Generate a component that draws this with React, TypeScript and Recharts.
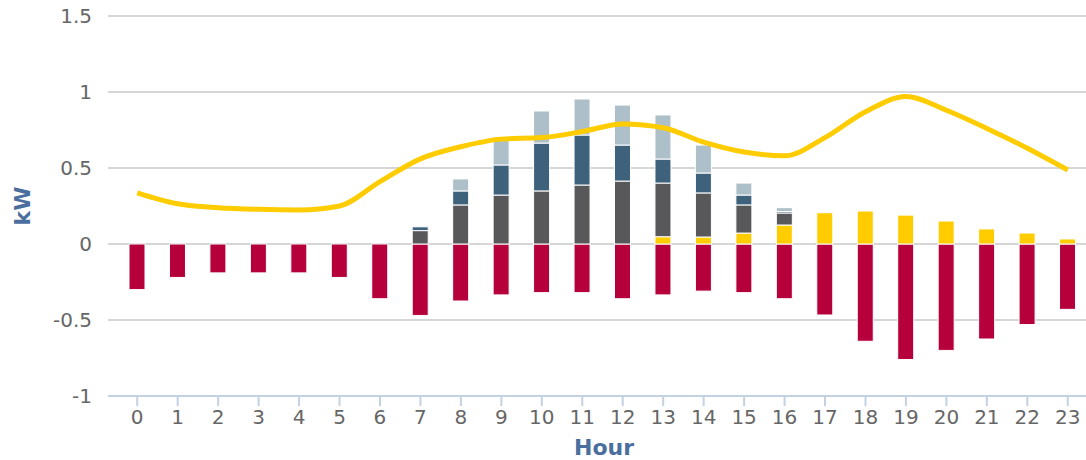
import React from 'react';
import { ComposedChart, Bar, Line, XAxis, YAxis, CartesianGrid } from 'recharts';

const hours = ['0', '1', '2', '3', '4', '5', '6', '7', '8', '9', '10', '11', '12', '13', '14', '15', '16', '17', '18', '19', '20', '21', '22', '23'];

// stacked positive parts (bottom to top)
const solar = [0, 0, 0, 0, 0, 0, 0, 0, 0, 0, 0, 0, 0, 0.048, 0.046, 0.072, 0.125, 0.206, 0.217, 0.19, 0.151, 0.099, 0.072, 0.033];
const base = [0, 0, 0, 0, 0, 0, 0, 0.088, 0.257, 0.322, 0.349, 0.388, 0.414, 0.353, 0.29, 0.185, 0.079, 0, 0, 0, 0, 0, 0, 0];
const shifted = [0, 0, 0, 0, 0, 0, 0, 0.025, 0.092, 0.198, 0.315, 0.329, 0.237, 0.158, 0.131, 0.065, 0.01, 0, 0, 0, 0, 0, 0, 0];
const extra = [0, 0, 0, 0, 0, 0, 0, 0, 0.079, 0.184, 0.211, 0.237, 0.263, 0.29, 0.184, 0.079, 0.025, 0, 0, 0, 0, 0, 0, 0];
// negative bars
const demand = [-0.3, -0.22, -0.19, -0.19, -0.19, -0.22, -0.36, -0.47, -0.375, -0.335, -0.32, -0.32, -0.36, -0.335, -0.31, -0.32, -0.36, -0.467, -0.64, -0.76, -0.7, -0.625, -0.53, -0.43];
// yellow curve
const profile = [0.337, 0.265, 0.239, 0.228, 0.224, 0.25, 0.41, 0.56, 0.64, 0.69, 0.7, 0.74, 0.79, 0.765, 0.67, 0.605, 0.58, 0.7, 0.87, 0.97, 0.88, 0.76, 0.63, 0.487];

const yTicks = [-1, -0.5, 0, 0.5, 1, 1.5];

const data = hours.map((h, i) => ({
  hour: h,
  solar: solar[i],
  base: base[i],
  shifted: shifted[i],
  extra: extra[i],
  demand: demand[i],
  profile: profile[i],
}));

const FONT = '"DejaVu Sans", sans-serif';
const TITLE = '#4a6f9e';

export default function App() {
  return (
    <div style={{ position: 'absolute', left: 0, top: 0, width: 1086, height: 460, overflow: 'hidden', background: '#fff' }}>
      <ComposedChart
        width={1090}
        height={460}
        data={data}
        stackOffset="sign"
        barSize={16}
        margin={{ top: 16, right: 2, bottom: 14, left: 0 }}
      >
        <CartesianGrid vertical={false} stroke="#c8c8c8" strokeWidth={1.5} />
        <XAxis
          dataKey="hour"
          padding={{ left: 9, right: 0 }}
          height={50}
          stroke="#c3d2e3"
          strokeWidth={2}
          tickSize={10}
          tickMargin={4}
          tick={{ fill: '#666666', fontSize: 20, fontFamily: FONT }}
          label={(props: any) => {
            const vb = props.viewBox;
            return (
              <text x={604} y={vb.y + 51} textAnchor="middle" dominantBaseline="central" fill={TITLE} fontSize={22} fontWeight="bold" fontFamily={FONT}>
                Hour
              </text>
            );
          }}
        />
        <YAxis
          domain={[-1, 1.5]}
          ticks={yTicks}
          width={108}
          axisLine={false}
          tickLine={false}
          tickSize={0}
          tickMargin={16}
          tick={{ fill: '#666666', fontSize: 20, fontFamily: FONT }}
          label={(props: any) => {
            const vb = props.viewBox;
            const cy = vb.y + vb.height / 2;
            return (
              <text x={22} y={cy} transform={`rotate(-90 22 ${cy})`} textAnchor="middle" dominantBaseline="central" fill={TITLE} fontSize={22} fontWeight="bold" fontFamily={FONT}>
                kW
              </text>
            );
          }}
        />
        <Bar dataKey="demand" stackId="a" fill="#b5003c" stroke="#ffffff" strokeWidth={1} isAnimationActive={false} />
        <Bar dataKey="solar" stackId="a" fill="#ffcc00" stroke="#ffffff" strokeWidth={1} isAnimationActive={false} />
        <Bar dataKey="base" stackId="a" fill="#58585a" stroke="#ffffff" strokeWidth={1} isAnimationActive={false} />
        <Bar dataKey="shifted" stackId="a" fill="#3e627c" stroke="#ffffff" strokeWidth={1} isAnimationActive={false} />
        <Bar dataKey="extra" stackId="a" fill="#adbfc8" stroke="#ffffff" strokeWidth={1} isAnimationActive={false} />
        <Line type="monotone" dataKey="profile" stroke="#ffcc00" strokeWidth={5} dot={false} activeDot={false} isAnimationActive={false} />
      </ComposedChart>
    </div>
  );
}
